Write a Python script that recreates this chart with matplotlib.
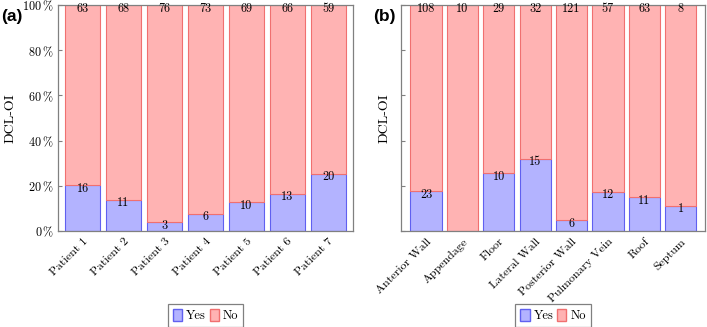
import matplotlib
matplotlib.use("Agg")
import matplotlib.pyplot as plt
from matplotlib.patches import Patch
import numpy as np

patients = ['Patient 1', 'Patient 2', 'Patient 3', 'Patient 4', 'Patient 5', 'Patient 6', 'Patient 7']
patient_yes = [16, 11, 3, 6, 10, 13, 20]
patient_no = [63, 68, 76, 73, 69, 66, 59]

regions = ['Anterior Wall', 'Appendage', 'Floor', 'Lateral Wall', 'Posterior Wall',
           'Pulmonary Vein', 'Roof', 'Septum']
region_yes = [23, 0, 10, 15, 6, 12, 11, 1]
region_no = [108, 10, 29, 32, 121, 57, 63, 8]

pct_ticks = [0, 20, 40, 60, 80, 100]

plt.rcParams['font.family'] = ['cmr10', 'DejaVu Serif']
plt.rcParams['mathtext.fontset'] = 'cm'
plt.rcParams['axes.unicode_minus'] = False

YES_FILL, YES_EDGE = '#b3b3ff', '#6060f0'
NO_FILL, NO_EDGE = '#ffb3b3', '#f07070'
GREY = '#808080'


def stacked(ax, cats, yes, no, width, show_yticks):
    yes = np.array(yes, dtype=float)
    no = np.array(no, dtype=float)
    tot = yes + no
    yp = yes / tot * 100
    npct = no / tot * 100
    x = np.arange(len(cats))
    ax.bar(x, yp, width, color=YES_FILL, edgecolor=YES_EDGE, linewidth=0.8)
    ax.bar(x, npct, width, bottom=yp, color=NO_FILL, edgecolor=NO_EDGE, linewidth=0.8)
    for i in range(len(cats)):
        if yes[i] > 0:
            ax.annotate(f'{int(yes[i])}', (x[i], yp[i]), xytext=(0, -2.5), textcoords='offset points',
                        ha='center', va='center', fontsize=8.8)
        ax.annotate(f'{int(no[i])}', (x[i], 100), xytext=(0, -2.5), textcoords='offset points',
                    ha='center', va='center', fontsize=8.8)
    ax.set_ylim(0, 100)
    ax.set_yticks(pct_ticks)
    if show_yticks:
        ax.set_yticklabels([rf'${t}\,\%$' for t in pct_ticks])
    else:
        ax.set_yticklabels([])
    ax.set_xticks(x)
    ax.set_xticklabels(cats, rotation=45, ha='right', rotation_mode='anchor')
    ax.tick_params(axis='x', length=0, pad=4, labelsize=8.6)
    ax.tick_params(axis='y', direction='in', length=3, color=GREY, labelsize=8.8, pad=3)
    for s in ax.spines.values():
        s.set_color(GREY)
        s.set_linewidth(0.9)
    ax.set_ylabel('DCL-OI', fontsize=10)
    handles = [Patch(facecolor=YES_FILL, edgecolor=YES_EDGE, label='Yes'),
               Patch(facecolor=NO_FILL, edgecolor=NO_EDGE, label='No')]
    leg = ax.legend(handles=handles, ncol=2, loc='lower center', fontsize=9,
                    handlelength=0.75, handleheight=1.1, handletextpad=0.3,
                    columnspacing=0.3, borderpad=0.4, borderaxespad=0, fancybox=False,
                    edgecolor=GREY, framealpha=1)
    leg.get_frame().set_linewidth(0.9)
    return leg


fig = plt.figure(figsize=(7.07, 3.27), dpi=100)
ax1 = fig.add_axes([58 / 707, 96 / 327, 295 / 707, 226 / 327])
ax2 = fig.add_axes([401 / 707, 96 / 327, 304 / 707, 226 / 327])

stacked(ax1, patients, patient_yes, patient_no, 0.85, True)
ax1.set_xlim(-0.6, 6.6)
ax1.yaxis.set_label_coords(-0.14, 0.5)
ax1.get_legend().set_bbox_to_anchor((0.5, -0.425))

stacked(ax2, regions, region_yes, region_no, 0.86, False)
ax2.set_xlim(-0.69, 7.67)
ax2.yaxis.set_label_coords(-0.035, 0.5)
ax2.get_legend().set_bbox_to_anchor((0.5, -0.425))

fig.text(1 / 707, 1 - 16 / 327, '(a)', fontsize=12.5, fontweight='bold',
         family='Liberation Sans', va='center', ha='left')
fig.text(373 / 707, 1 - 16 / 327, '(b)', fontsize=12.5, fontweight='bold',
         family='Liberation Sans', va='center', ha='left')

fig.savefig('out.png', dpi=100)
